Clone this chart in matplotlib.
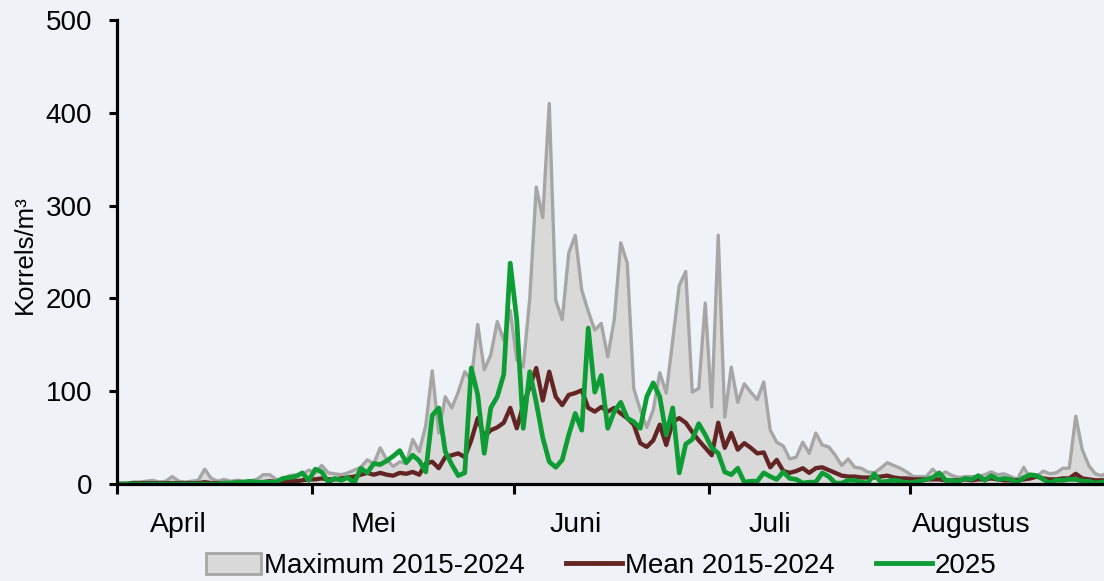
import numpy as np
import pandas as pd
import matplotlib
matplotlib.use("Agg")
import matplotlib.pyplot as plt
from matplotlib.patches import Patch
from matplotlib.lines import Line2D

plt.rcParams['font.family'] = ['Liberation Sans', 'DejaVu Sans']

# Daily values, 1 April .. 31 August
dates = pd.date_range("2025-04-01", "2025-08-31", freq="D")

max_2015_2024 = [
    1, 1, 2, 2, 3, 4, 2, 3, 8, 3,
    2, 3, 4, 16, 6, 3, 5, 3, 4, 3,
    3, 5, 10, 10, 5, 5, 9, 10, 10, 15,
    12, 20, 12, 11, 10, 12, 15, 18, 26, 22,
    39, 26, 19, 24, 22, 48, 35, 63, 122, 55,
    94, 82, 99, 121, 112, 172, 123, 139, 175, 155,
    187, 134, 126, 200, 320, 287, 410, 198, 177, 249,
    268, 209, 186, 166, 173, 137, 177, 260, 238, 103,
    80, 61, 80, 120, 98, 155, 214, 229, 99, 103,
    195, 83, 268, 72, 126, 88, 108, 99, 91, 110,
    58, 45, 41, 27, 29, 45, 33, 55, 42, 40,
    31, 20, 27, 18, 17, 13, 12, 17, 23, 20,
    17, 13, 8, 8, 8, 16, 9, 13, 9, 7,
    8, 8, 8, 10, 13, 10, 11, 8, 5, 18,
    6, 8, 14, 11, 12, 17, 17, 73, 37, 20,
    11, 9, 13,
]

mean_2015_2024 = [
    0, 0, 1, 1, 1, 1, 1, 1, 1, 1,
    1, 1, 1, 2, 1, 1, 1, 1, 1, 1,
    2, 2, 2, 3, 2, 2, 3, 3, 4, 5,
    5, 6, 5, 5, 6, 7, 8, 10, 12, 10,
    12, 10, 9, 12, 11, 13, 10, 22, 24, 17,
    29, 31, 33, 29, 47, 71, 51, 58, 61, 66,
    82, 60, 85, 105, 125, 90, 121, 94, 85, 96,
    98, 101, 82, 78, 83, 78, 82, 76, 71, 64,
    44, 40, 47, 64, 42, 67, 71, 66, 56, 47,
    39, 31, 66, 39, 55, 37, 44, 39, 33, 34,
    18, 26, 14, 12, 14, 17, 12, 17, 18, 15,
    12, 9, 8, 8, 7, 7, 7, 8, 9, 7,
    6, 6, 5, 5, 5, 5, 5, 4, 4, 4,
    5, 4, 5, 5, 6, 5, 4, 4, 4, 5,
    6, 8, 6, 5, 5, 6, 6, 11, 6, 5,
    4, 4, 4,
]

season_2025 = [
    0, 0, 0, 0, 0, 0, 0, 0, 0, 0,
    0, 0, 0, 0, 0, 0, 1, 1, 2, 2,
    3, 2, 2, 2, 2, 6, 7, 8, 12, 4,
    16, 13, 2, 6, 4, 7, 1, 17, 12, 22,
    21, 25, 30, 36, 23, 31, 25, 13, 74, 82,
    35, 21, 9, 12, 125, 96, 33, 82, 94, 118,
    238, 177, 60, 121, 88, 50, 24, 18, 26, 53,
    76, 58, 168, 99, 117, 60, 78, 88, 71, 67,
    60, 94, 109, 94, 53, 82, 12, 43, 48, 65,
    53, 39, 33, 13, 10, 17, 2, 3, 3, 12,
    8, 5, 13, 6, 5, 1, 2, 2, 12, 8,
    1, 1, 4, 4, 2, 1, 11, 2, 3, 4,
    3, 1, 2, 3, 5, 7, 12, 4, 4, 3,
    6, 5, 9, 4, 9, 5, 6, 5, 2, 7,
    10, 9, 5, 1, 4, 4, 5, 5, 3, 3,
    1, 2, 2,
]

month_labels = ["April", "Mei", "Juni", "Juli", "Augustus"]
y_ticks = [0, 100, 200, 300, 400, 500]

BG = "#EFF3F8"
FILL = "#D9D9D9"
GREY = "#A6A6A6"
MEAN_C = "#632523"
GREEN = "#0E9C34"

x = np.arange(len(dates))

fig = plt.figure(figsize=(11.04, 5.81), dpi=100, facecolor=BG)
ax = fig.add_axes([117 / 1104, 97 / 581, (1111.5 - 117) / 1104, 464 / 581])
ax.set_facecolor(BG)

ax.fill_between(x, 0, max_2015_2024, color=FILL, lw=0, zorder=1)
ax.plot(x, max_2015_2024, color=GREY, lw=2.4, zorder=2)
ax.plot(x, mean_2015_2024, color=MEAN_C, lw=3.1, zorder=3)
ax.plot(x, season_2025, color=GREEN, lw=3.4, zorder=4)

ax.set_xlim(-0.5, len(dates) - 0.5)
ax.set_ylim(0, 500)

# month boundaries as ticks, labels on the 10th of each month
month_starts = [i for i, d in enumerate(dates) if d.day == 1]
label_pos = [i for i, d in enumerate(dates) if d.day == 10]
ax.set_xticks([m - 0.5 for m in month_starts])
ax.set_xticklabels([])
ax.set_xticks(label_pos, minor=True)
ax.set_xticklabels(month_labels, minor=True, fontsize=20.5)
ax.tick_params(axis='x', which='major', length=7, width=2.2, direction='out', color='black')
ax.tick_params(axis='x', which='minor', length=0, pad=20)

ax.set_yticks(y_ticks)
ax.set_yticklabels([str(v) for v in y_ticks], fontsize=20)
ax.tick_params(axis='y', length=6, width=2.2, direction='out', pad=12)

for s in ['top', 'right']:
    ax.spines[s].set_visible(False)
for s in ['left', 'bottom']:
    ax.spines[s].set_linewidth(2.3)
    ax.spines[s].set_color('black')
    ax.spines[s].set_zorder(5)

fig.text(25 / 1104, 1 - 255 / 581, "Korrels/m³", rotation=90, fontsize=18.5,
         ha='center', va='center')

handles = [
    Patch(facecolor=FILL, edgecolor=GREY, linewidth=2.0),
    Line2D([0], [0], color=MEAN_C, lw=3.5),
    Line2D([0], [0], color=GREEN, lw=3.5),
]
labels = ["Maximum 2015-2024", "Mean 2015-2024", "2025"]
fig.legend(handles, labels, loc='center', bbox_to_anchor=(601 / 1104, 1 - 566 / 581),
           ncol=3, frameon=False, fontsize=20, handlelength=2.0, handleheight=0.8,
           handletextpad=0.1, columnspacing=1.5)

fig.savefig("out.png", dpi=100, facecolor=BG)
